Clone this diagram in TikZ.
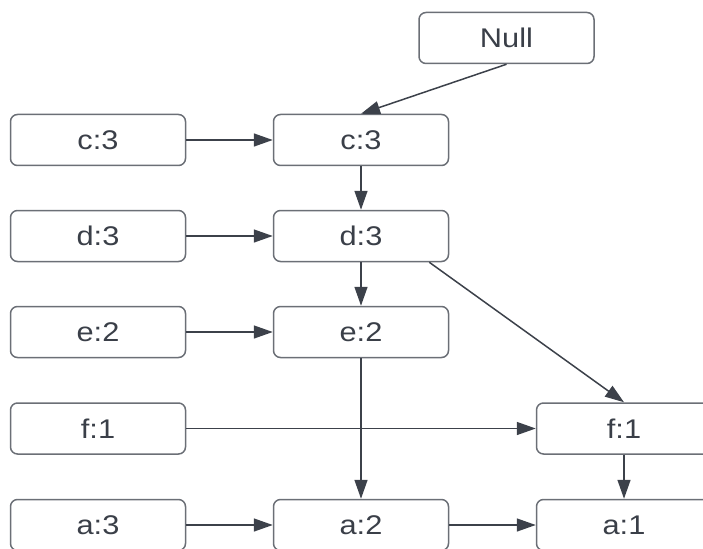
\documentclass[tikz,border=0pt]{standalone}
\usepackage{fontspec}
\setmainfont{Liberation Sans}[FakeStretch=1.14]
\usetikzlibrary{arrows.meta}
\definecolor{txt}{HTML}{3A3F48}
\definecolor{bord}{HTML}{6B6F76}
\definecolor{arr}{HTML}{3C414A}
\tikzset{
  box/.style={draw=bord, line width=1.5pt, rounded corners=7pt, minimum width=175pt, minimum height=51pt, inner sep=0pt, text=txt, font=\fontsize{27}{32}\selectfont},
  link/.style={draw=arr, line width=1.5pt, -{Triangle[length=19pt,width=13pt]}}
}
\begin{document}
\begin{tikzpicture}[x=1pt,y=-1pt]
\useasboundingbox (0,0) rectangle (703,548);
\clip (0,0) rectangle (703,548);
\node[box] (null) at (506.5,38) {Null};
\node[box] (cL) at (98,140) {c:3};
\node[box] (cM) at (361,140) {c:3};
\node[box] (dL) at (98,236) {d:3};
\node[box] (dM) at (361,236) {d:3};
\node[box] (eL) at (98,332) {e:2};
\node[box] (eM) at (361,332) {e:2};
\node[box] (fL) at (98,428.5) {f:1};
\node[box] (fR) at (624,428.5) {f:1};
\node[box] (aL) at (98,525) {a:3};
\node[box] (aM) at (361,525) {a:2};
\node[box] (aR) at (624,525) {a:1};
\coordinate (dstart) at ([xshift=-20pt]dM.south east);
\draw[link] (null.south) -- (cM.north);
\draw[link] (cL.east) -- (cM.west);
\draw[link] (cM.south) -- (dM.north);
\draw[link] (dL.east) -- (dM.west);
\draw[link] (dM.south) -- (eM.north);
\draw[link] (dstart) -- (fR.north);
\draw[link] (eL.east) -- (eM.west);
\draw[link] (eM.south) -- (aM.north);
\draw[link] (fL.east) -- (fR.west);
\draw[link] (fR.south) -- (aR.north);
\draw[link] (aL.east) -- (aM.west);
\draw[link] (aM.east) -- (aR.west);
\end{tikzpicture}
\end{document}
